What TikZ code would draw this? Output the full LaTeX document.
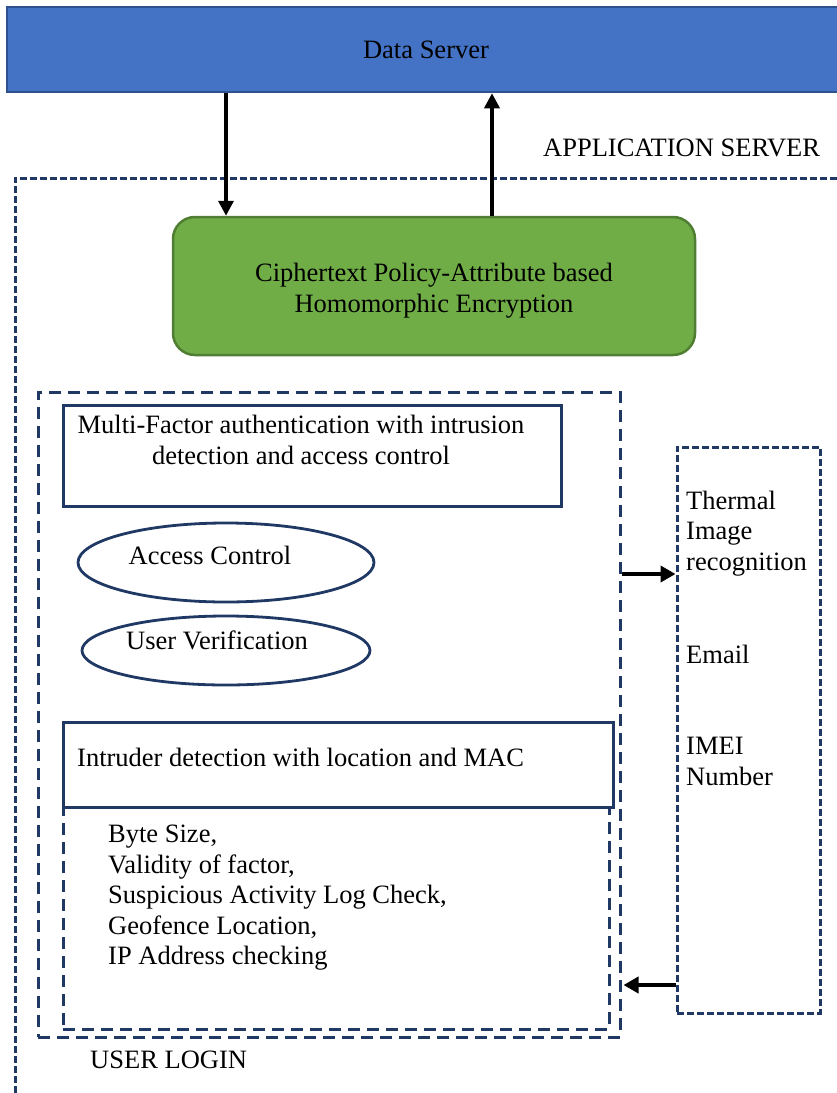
\documentclass[tikz,border=0pt]{standalone}
\usepackage{fontspec}
\setmainfont{Liberation Serif}
\usetikzlibrary{arrows.meta,shapes.geometric}
\definecolor{navy}{HTML}{203864}
\definecolor{serverblue}{HTML}{4472C4}
\definecolor{serveredge}{HTML}{2F528F}
\definecolor{leafgreen}{HTML}{70AD47}
\definecolor{leafedge}{HTML}{507E32}
\tikzset{
  x=1pt, y=-1pt,
  txt/.style={font=\fontsize{26.5}{30.5}\selectfont, inner sep=0pt, text=black},
  box/.style={rectangle, inner sep=0pt, draw=navy, line width=3pt},
  oval/.style={ellipse, inner sep=0pt, draw=navy, line width=2.8pt},
  finedash/.style={draw=navy, line width=3pt, dash pattern=on 7pt off 3pt},
  widedash/.style={draw=navy, line width=3pt, dash pattern=on 12pt off 7pt},
  thinarrow/.style={draw=black, line width=3.5pt, -{Triangle[length=15pt,width=15pt]}},
  thickarrow/.style={draw=black, line width=4.5pt, -{Triangle[length=15pt,width=16pt]}},
}
\begin{document}
\begin{tikzpicture}
\useasboundingbox (0,0) rectangle (837,1093);
\clip (0,0) rectangle (837,1093);

% data server bar across the top
\node[rectangle, inner sep=0pt, fill=serverblue, draw=serveredge, line width=2.5pt,
      minimum width=838pt, minimum height=85pt, txt] (ds) at (426,49.5) {Data Server};

% application server frame
\node[rectangle, inner sep=0pt, finedash, minimum width=830pt, minimum height=922pt] (app) at (430,639) {};
\node[txt, anchor=base west] (applbl) at (543,156) {APPLICATION SERVER};

% encryption block
\node[rectangle, rounded corners=22pt, inner sep=0pt, fill=leafgreen, draw=leafedge, line width=2.5pt,
      minimum width=522pt, minimum height=138pt] (cp) at (434,286) {};
\node[txt, anchor=north, align=center] (cptxt) at (434,263)
      {Ciphertext Policy-Attribute based\\Homomorphic Encryption};

% user login frame
\node[rectangle, inner sep=0pt, widedash, minimum width=582pt, minimum height=645pt] (ul) at (329,714.5) {};
\node[txt, anchor=base west] (ullbl) at (90,1068) {USER LOGIN};

% multi-factor authentication
\node[box, minimum width=498pt, minimum height=101pt] (mf) at (312,455.5) {};
\node[txt, anchor=north, align=center] (mftxt) at (301,415)
      {Multi-Factor authentication with intrusion\\detection and access control};

\node[oval, minimum width=296pt, minimum height=79pt] (ac) at (226,562.5) {};
\node[txt, anchor=base] (actxt) at (210,564) {Access Control};

\node[oval, minimum width=288pt, minimum height=69pt] (uv) at (226,650.5) {};
\node[txt, anchor=base] (uvtxt) at (217,649) {User Verification};

% intruder detection and its checks
\node[rectangle, inner sep=0pt, widedash, minimum width=546pt, minimum height=222pt] (chk) at (336,918) {};
\node[box, minimum width=550pt, minimum height=85pt] (id) at (338,764.5) {};
\node[txt, anchor=base west] (idtxt) at (77,766) {Intruder detection with location and MAC};
\node[txt, anchor=north west, align=left] (chktxt) at (108,825)
      {Byte Size,\\Validity of factor,\\Suspicious Activity Log Check,\\Geofence Location,\\IP Address checking};

% additional factors
\node[rectangle, inner sep=0pt, finedash, minimum width=143pt, minimum height=566pt] (rb) at (748.5,730) {};
\node[txt, anchor=north west, align=left] (thtxt) at (686,490.5) {Thermal\\Image\\recognition};
\node[txt, anchor=base west] (emtxt) at (686,663) {Email};
\node[txt, anchor=north west, align=left] (imtxt) at (686,737) {IMEI\\Number};

% connectors
\coordinate (xdown) at (226,0);
\coordinate (xup) at (492,0);
\coordinate (yout) at (0,574);
\coordinate (yin) at (0,985);
\draw[thinarrow] (ds.south -| xdown) -- (cp.north -| xdown);
\draw[thinarrow] (cp.north -| xup) -- (ds.south -| xup);
\draw[thickarrow] (ul.east |- yout) -- (rb.west |- yout);
\draw[thickarrow] (rb.west |- yin) -- ([xshift=2pt]ul.east |- yin);
\end{tikzpicture}
\end{document}
